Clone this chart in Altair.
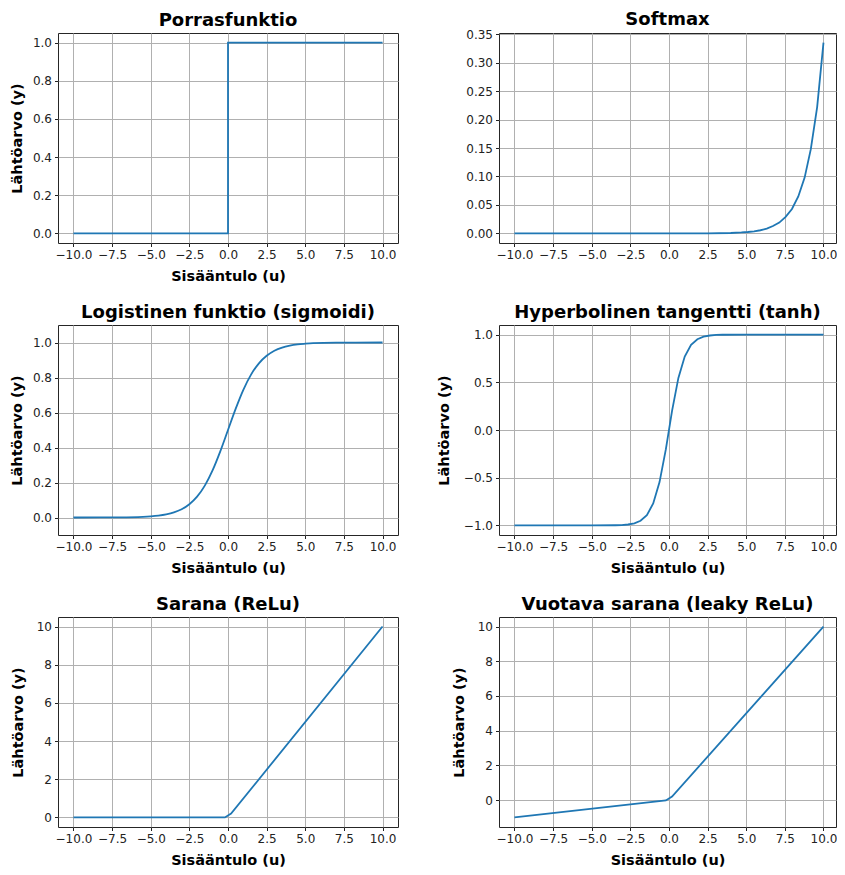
import altair as alt
import pandas as pd

# ---------------- data ----------------
x_ticks = [-10, -7.5, -5, -2.5, 0, 2.5, 5, 7.5, 10]

titles = [
    "Porrasfunktio",
    "Softmax",
    "Logistinen funktio (sigmoidi)",
    "Hyperbolinen tangentti (tanh)",
    "Sarana (ReLu)",
    "Vuotava sarana (leaky ReLu)",
]
x_title = "Sisääntulo (u)"
y_title = "Lähtöarvo (y)"

step_x = [-10, 0, 0, 10]
step_y = [0, 0, 1, 1]

softmax_x = [-10, -5, 0, 2.5, 4.0, 4.69, 5.1, 5.51, 5.92, 6.33, 6.73, 7.14, 7.55, 7.96, 8.37, 8.78, 9.18, 9.59, 10.0]
softmax_y = [0.0, 0.0, 0.0, 0.0002, 0.0008, 0.0017, 0.0025, 0.0037, 0.0056, 0.0085, 0.013, 0.019, 0.029, 0.043, 0.065, 0.098, 0.148, 0.222, 0.335]

sigmoid_x = [-10, -7, -5.5, -5, -4.5, -4, -3.5, -3, -2.5, -2, -1.5, -1, -0.5, 0, 0.5, 1, 1.5, 2, 2.5, 3, 3.5, 4, 4.5, 5, 5.5, 7, 10]
sigmoid_y = [0.0, 0.0009, 0.004, 0.0067, 0.011, 0.018, 0.029, 0.047, 0.076, 0.119, 0.182, 0.269, 0.378, 0.5,
             0.622, 0.731, 0.818, 0.881, 0.924, 0.953, 0.971, 0.982, 0.989, 0.993, 0.996, 0.999, 1.0]

tanh_x = [-10, -5, -3.47, -3.06, -2.65, -2.24, -1.84, -1.43, -1.02, -0.61, -0.20,
          0.20, 0.61, 1.02, 1.43, 1.84, 2.24, 2.65, 3.06, 3.47, 5, 10]
tanh_y = [-1.0, -1.0, -0.998, -0.996, -0.990, -0.978, -0.951, -0.892, -0.770, -0.546, -0.201,
          0.201, 0.546, 0.770, 0.892, 0.951, 0.978, 0.990, 0.996, 0.998, 1.0, 1.0]

relu_x = [-10, -0.2, 0.2, 10]
relu_y = [0, 0, 0.2, 10]

leaky_x = [-10, -0.2, 0.2, 10]
leaky_y = [-1.0, -0.02, 0.2, 10]

# y axis settings per panel
step_yticks = [0, 0.2, 0.4, 0.6, 0.8, 1.0]
softmax_yticks = [0, 0.05, 0.10, 0.15, 0.20, 0.25, 0.30, 0.35]
sigmoid_yticks = [0, 0.2, 0.4, 0.6, 0.8, 1.0]
tanh_yticks = [-1.0, -0.5, 0.0, 0.5, 1.0]
relu_yticks = [0, 2, 4, 6, 8, 10]
leaky_yticks = [0, 2, 4, 6, 8, 10]

FONT = "DejaVu Sans"
LINE = "#1f77b4"

XDOM_L = [-11, 11]
XDOM_R = [-11, 10.81]


def panel(title, xs, ys, xdom, ydom, yticks, yfmt, width, height, ytx, axis_titles=True,
          interp="linear", toff=-11):
    df = pd.DataFrame({"u": xs, "y": ys, "i": list(range(len(xs)))})
    common_x = dict(values=x_ticks, format=".1f", labelOverlap=False, labelFlush=False)
    common_y = dict(values=yticks, format=yfmt, labelOverlap=False, labelFlush=False)
    if axis_titles:
        xa = alt.Axis(title=x_title, titleY=37, titleBaseline="alphabetic", **common_x)
        ya = alt.Axis(title=y_title, titleX=ytx, titleBaseline="alphabetic", **common_y)
    else:
        xa = alt.Axis(title=None, **common_x)
        ya = alt.Axis(title=None, **common_y)
    return (
        alt.Chart(df)
        .mark_line(color=LINE, strokeWidth=1.8, interpolate=interp, clip=True)
        .encode(
            x=alt.X("u:Q", scale=alt.Scale(domain=xdom, nice=False, zero=False), axis=xa),
            y=alt.Y("y:Q", scale=alt.Scale(domain=ydom, nice=False, zero=False), axis=ya),
            order=alt.Order("i:Q"),
        )
        .properties(
            width=width,
            height=height,
            title=alt.TitleParams(
                text=title, font=FONT, fontSize=18, fontWeight="bold", color="black",
                anchor="middle", baseline="alphabetic", offset=toff,
            ),
        )
    )


WL, WR = 340, 337
H = 210

p1 = panel(titles[0], step_x, step_y, XDOM_L, [-0.05, 1.05], step_yticks, ".1f", WL, H, -37)
p2 = panel(titles[1], softmax_x, softmax_y, XDOM_R, [-0.0168, 0.352], softmax_yticks, ".2f", WR, H, -39,
           axis_titles=False, toff=-15)
p3 = panel(titles[2], sigmoid_x, sigmoid_y, XDOM_L, [-0.1, 1.1], sigmoid_yticks, ".1f", WL, H, -37,
           interp="monotone")
p4 = panel(titles[3], tanh_x, tanh_y, XDOM_R, [-1.1, 1.1], tanh_yticks, ".1f", WR, H, -51)
p5 = panel(titles[4], relu_x, relu_y, XDOM_L, [-0.5, 10.5], relu_yticks, "d", WL, H, -36)
p6 = panel(titles[5], leaky_x, leaky_y, XDOM_R, [-1.55, 10.55], leaky_yticks, "d", WR, H, -36)

chart = (
    alt.concat(p1, p2, p3, p4, p5, p6, columns=2, spacing={"row": 82, "column": 101}, bounds="flush")
    .properties(padding={"left": 0, "top": 2, "right": -1, "bottom": 2}, background="white")
    .configure_view(stroke="#262626", strokeWidth=1)
    .configure_axis(
        labelFont=FONT, labelFontSize=12, labelColor="#222222",
        titleFont=FONT, titleFontSize=14.5, titleFontWeight="bold", titleColor="black",
        tickColor="#222222", tickSize=3.5, tickWidth=1, labelPadding=3,
        domain=False, grid=True, gridColor="#b0b0b0", gridWidth=1,
    )
)

chart.save("out.html", embed_options={"renderer": "svg", "actions": False})
